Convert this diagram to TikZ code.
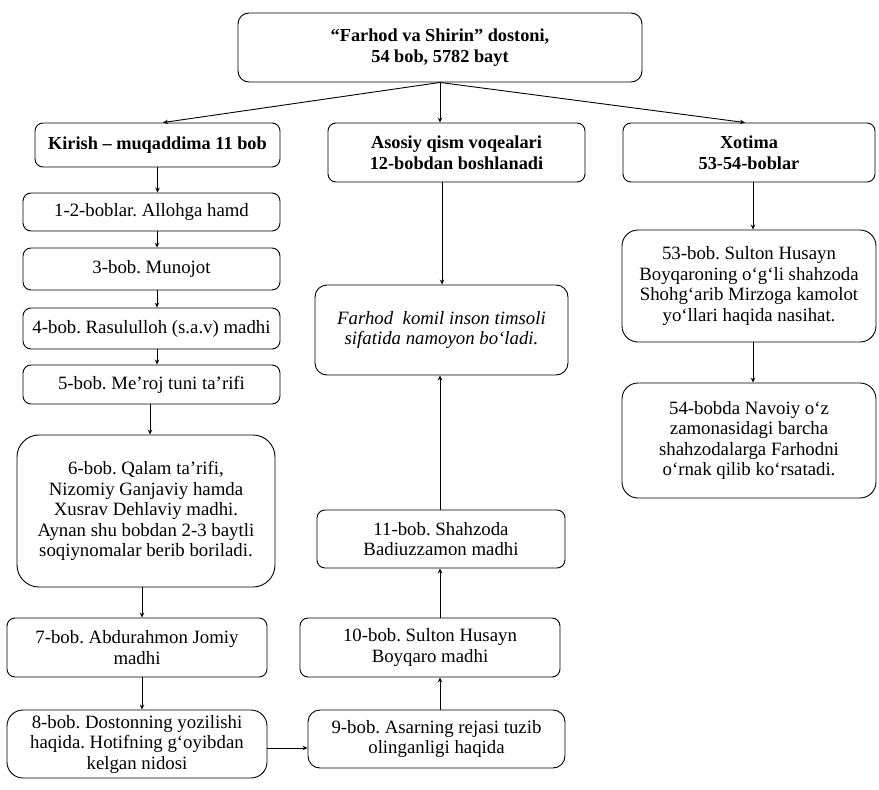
\documentclass[tikz,border=0pt]{standalone}
\usepackage{fontspec}
\setmainfont{Liberation Serif}
\frenchspacing
\usetikzlibrary{arrows.meta}
\tikzset{
  box/.style={draw, line width=0.9pt, rounded corners=8pt, align=center, inner sep=0pt,
    font=\fontsize{18.8}{20.5}\selectfont},
  bigbox/.style={box, rounded corners=16pt},
  hbox/.style={box, font=\fontsize{18.3}{21.5}\selectfont\bfseries},
  arr/.style={line width=0.9pt, -{Stealth[length=5pt,width=4.5pt]}},
  ln/.style={line width=0.9pt}
}
\begin{document}
\begin{tikzpicture}[x=1pt,y=-1pt]
\useasboundingbox (0,0) rectangle (879,790);
% headers
\node[hbox, rounded corners=11pt, minimum width=404pt, minimum height=69pt] (top) at (440,47.5) {“Farhod va Shirin” dostoni,\\54 bob, 5782 bayt};
\node[hbox, minimum width=245pt, minimum height=44pt] (kir) at (157.5,145) {Kirish – muqaddima 11 bob};
\node[hbox, minimum width=257pt, minimum height=59pt] (asos) at (456.5,152.5) {Asosiy qism voqealari\\12-bobdan boshlanadi};
\node[hbox, minimum width=252pt, minimum height=59pt] (xot) at (749,152.5) {Xotima\\53-54-boblar};
% left column
\node[box, minimum width=257pt, minimum height=38pt] (b12) at (151.5,212) {1-2-boblar. Allohga hamd};
\node[box, minimum width=257pt, minimum height=42pt] (b3) at (151.5,269) {3-bob. Munojot};
\node[box, minimum width=257pt, minimum height=41pt] (b4) at (151.5,328.5) {4-bob. Rasululloh (s.a.v) madhi};
\node[box, minimum width=257pt, minimum height=39pt] (b5) at (151.5,384.5) {5-bob. Me’roj tuni ta’rifi};
\node[bigbox, rounded corners=22pt, minimum width=258pt, minimum height=152pt] (b6) at (146,511) {6-bob. Qalam ta’rifi,\\Nizomiy Ganjaviy hamda\\Xusrav Dehlaviy madhi.\\Aynan shu bobdan 2-3 baytli\\soqiynomalar berib boriladi.};
\node[box, minimum width=260pt, minimum height=59pt] (b7) at (137,647.5) {7-bob. Abdurahmon Jomiy\\madhi};
\node[bigbox, minimum width=260pt, minimum height=68pt] (b8) at (137,744) {8-bob. Dostonning yozilishi\\haqida. Hotifning g‘oyibdan\\kelgan nidosi};
% middle column
\node[box, rounded corners=12pt, minimum width=253pt, minimum height=90pt] (far) at (441.5,330) {\itshape Farhod\ \ komil inson timsoli\\\itshape sifatida namoyon bo‘ladi.};
\node[box, minimum width=248pt, minimum height=58pt] (b11) at (441,539) {11-bob. Shahzoda\\Badiuzzamon madhi};
\node[box, minimum width=260pt, minimum height=59pt] (b10) at (430,647.5) {10-bob. Sulton Husayn\\Boyqaro madhi};
\node[box, rounded corners=12pt, minimum width=257pt, minimum height=58pt] (b9) at (436.5,739) {9-bob. Asarning rejasi tuzib\\olinganligi haqida};
% right column
\node[bigbox, minimum width=254pt, minimum height=112pt] (b53) at (749,286) {53-bob. Sulton Husayn\\Boyqaroning o‘g‘li shahzoda\\Shohg‘arib Mirzoga kamolot\\yo‘llari haqida nasihat.};
\node[bigbox, minimum width=254pt, minimum height=115pt] (b54) at (749,440.5) {54-bobda Navoiy o‘z\\zamonasidagi barcha\\shahzodalarga Farhodni\\o‘rnak qilib ko‘rsatadi.};
% connectors from top
\draw[arr] (top.south) -- ([xshift=5.5pt]kir.north);
\draw[arr] (top.south) -- (top.south |- asos.north);
\draw[arr] (top.south) -- ([xshift=-4pt]xot.north);
% left column
\draw[arr] (kir.south) -- (kir.south |- b12.north);
\draw[arr] ([xshift=5.5pt]b12.south) -- ([xshift=5.5pt]b12.south |- b3.north);
\draw[arr] ([xshift=5.5pt]b3.south) -- ([xshift=5.5pt]b3.south |- b4.north);
\draw[arr] ([xshift=5.5pt]b4.south) -- ([xshift=5.5pt]b4.south |- b5.north);
\draw[arr] ([xshift=-1.5pt]b5.south) -- ([xshift=-1.5pt]b5.south |- b6.north);
\draw[arr] ([xshift=-4pt]b6.south) -- ([xshift=-4pt]b6.south |- b7.north);
\draw[arr] ([xshift=5pt]b7.south) -- ([xshift=5pt]b7.south |- b8.north);
% bottom link and middle column upwards
\draw[arr] ([yshift=-4pt]b8.east) -- ([yshift=-4pt]b8.east -| b9.west);
\draw[arr] ([xshift=3.5pt]b9.north) -- ([xshift=3.5pt]b9.north |- b10.south);
\draw[arr] ([xshift=-1pt]b10.north -| b11.south) -- ([xshift=-1pt]b11.south);
\draw[arr] ([xshift=-1pt]b11.north) -- ([xshift=-1pt]b11.north |- far.south);
\draw[arr] ([xshift=-14.5pt]asos.south) -- ([xshift=-14.5pt]asos.south |- far.north);
% right column
\draw[arr] ([xshift=4pt]xot.south) -- ([xshift=4pt]xot.south |- b53.north);
\draw[arr] ([xshift=4pt]b53.south) -- ([xshift=4pt]b53.south |- b54.north);
\end{tikzpicture}
\end{document}
